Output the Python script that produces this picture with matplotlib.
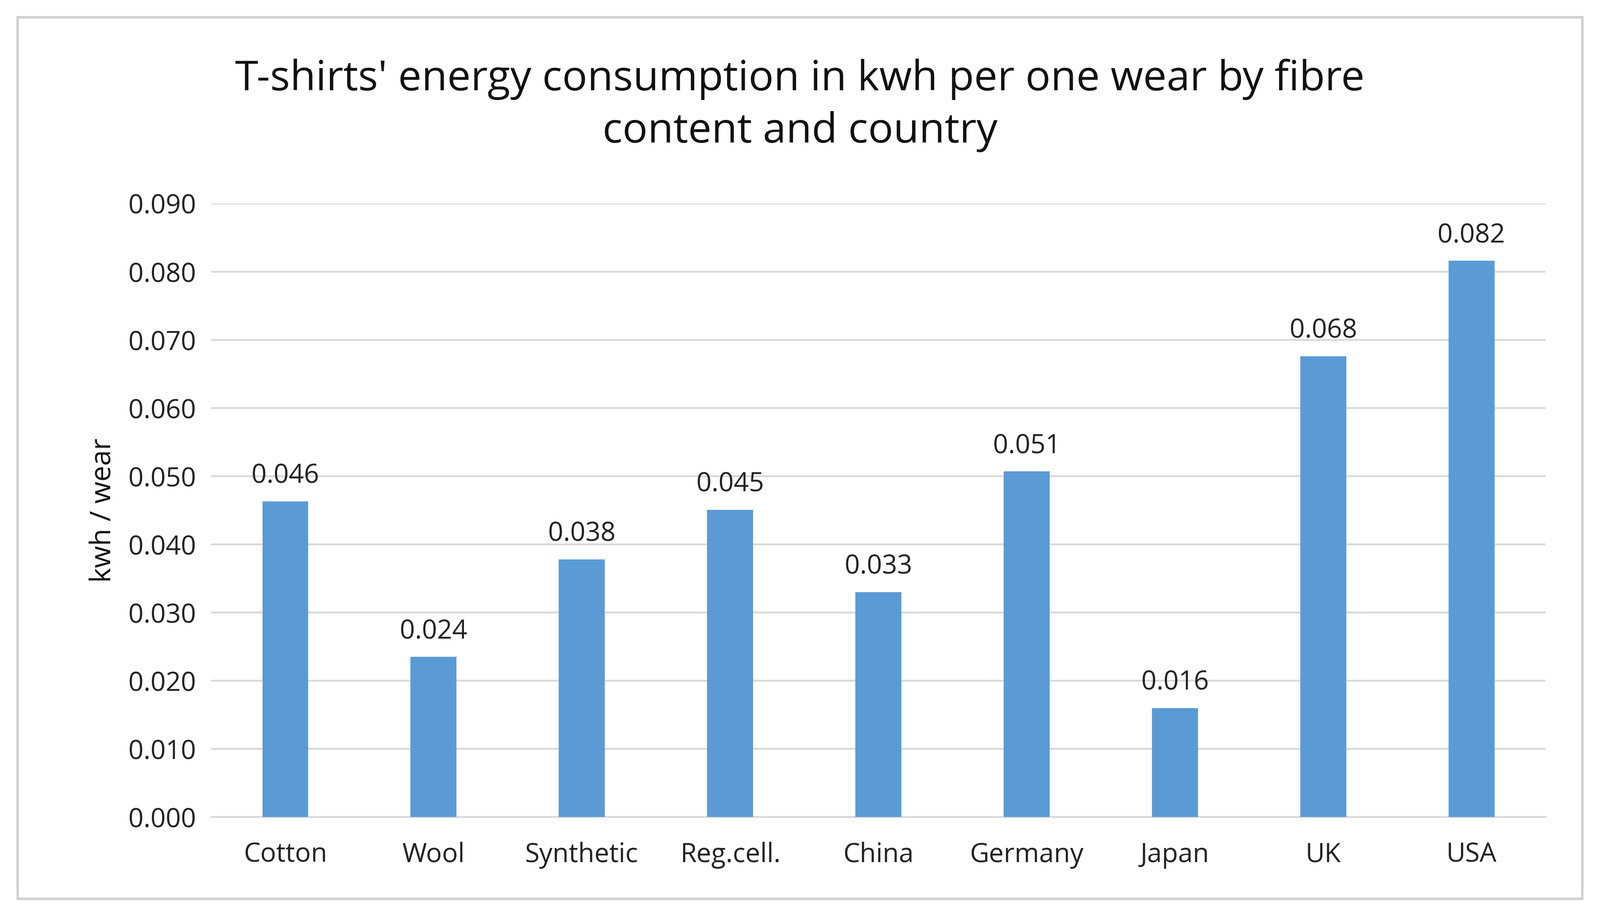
import matplotlib
matplotlib.use("Agg")
import matplotlib.pyplot as plt
from matplotlib.patches import Rectangle

categories = ["Cotton", "Wool", "Synthetic", "Reg.cell.", "China", "Germany", "Japan", "UK", "USA"]
values = [0.0463, 0.0235, 0.0378, 0.0451, 0.0330, 0.0507, 0.0160, 0.0676, 0.0816]
labels = ["0.046", "0.024", "0.038", "0.045", "0.033", "0.051", "0.016", "0.068", "0.082"]
yticks = [0.0, 0.01, 0.02, 0.03, 0.04, 0.05, 0.06, 0.07, 0.08, 0.09]

plt.rcParams["font.family"] = "Open Sans"
fig = plt.figure(figsize=(36.14, 20.72), dpi=100)
fig.patches.append(Rectangle((0.011, 0.02), 0.978, 0.961, transform=fig.transFigure,
                             fill=False, edgecolor="#d0d0d0", linewidth=4))
ax = fig.add_axes([0.132, 0.109, 0.834, 0.669])
x = range(len(categories))
ax.bar(x, values, width=0.31, color="#5b9bd5", zorder=3)
for i, (v, l) in enumerate(zip(values, labels)):
    ax.text(i, v + 0.0017, l, ha="center", va="bottom", fontsize=43, color="#222222")
ax.set_xlim(-0.5, len(categories) - 0.5)
ax.set_ylim(0, 0.09)
ax.set_yticks(yticks)
ax.set_yticklabels([f"{t:.3f}" for t in yticks], fontsize=43, color="#222222")
ax.set_xticks(list(x))
ax.set_xticklabels(categories, fontsize=43, color="#222222")
ax.tick_params(length=0, pad=25)
ax.tick_params(axis="x", pad=40)
ax.grid(axis="y", color="#d9d9d9", linewidth=3, zorder=0)
for s in ["top", "right", "left"]:
    ax.spines[s].set_visible(False)
ax.spines["bottom"].set_color("#d9d9d9")
ax.spines["bottom"].set_linewidth(3)
ax.set_ylabel("kwh / wear", fontsize=46, color="#111111", labelpad=18)
fig.text(0.5, 0.885, "T-shirts' energy consumption in kwh per one wear by fibre\ncontent and country",
         ha="center", va="center", fontsize=68, color="#111111", linespacing=1.35)
fig.savefig("out.png", dpi=100)
